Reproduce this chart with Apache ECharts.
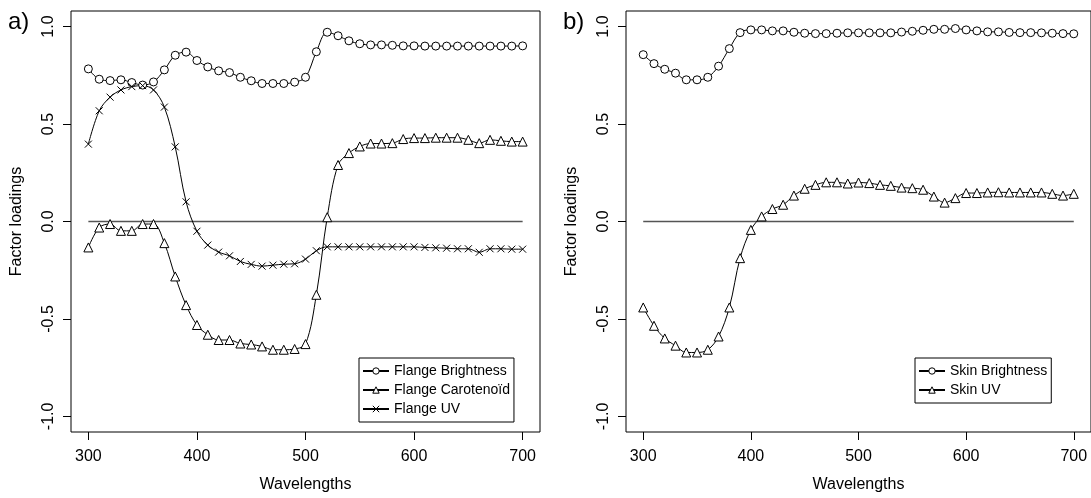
<!DOCTYPE html>
<html>
<head>
<meta charset="utf-8">
<script src="https://cdn.jsdelivr.net/npm/echarts@6/dist/echarts.min.js"></script>
<style>
html,body{margin:0;padding:0;background:#fff;}
#chart{width:1091px;height:498px;}
</style>
</head>
<body>
<div id="chart"></div>
<script>
// ---- data ----
var wavelengths = [300,310,320,330,340,350,360,370,380,390,400,410,420,430,440,450,460,470,480,490,500,510,520,530,540,550,560,570,580,590,600,610,620,630,640,650,660,670,680,690,700];

var flangeBrightness = [0.783,0.730,0.723,0.727,0.713,0.700,0.716,0.778,0.853,0.869,0.826,0.793,0.773,0.764,0.740,0.722,0.708,0.708,0.708,0.715,0.740,0.871,0.971,0.953,0.927,0.912,0.906,0.906,0.904,0.901,0.901,0.900,0.900,0.900,0.900,0.900,0.900,0.900,0.900,0.900,0.901];
var flangeCarotenoid = [-0.133,-0.031,-0.013,-0.048,-0.048,-0.013,-0.013,-0.111,-0.282,-0.429,-0.531,-0.581,-0.608,-0.608,-0.626,-0.631,-0.641,-0.658,-0.658,-0.654,-0.629,-0.376,0.022,0.290,0.351,0.385,0.400,0.400,0.402,0.423,0.428,0.428,0.430,0.430,0.430,0.419,0.402,0.419,0.414,0.410,0.410];
var flangeUV = [0.397,0.568,0.638,0.675,0.692,0.697,0.675,0.587,0.383,0.101,-0.050,-0.121,-0.157,-0.176,-0.205,-0.220,-0.229,-0.224,-0.219,-0.217,-0.193,-0.150,-0.130,-0.130,-0.130,-0.130,-0.130,-0.130,-0.130,-0.130,-0.130,-0.133,-0.135,-0.137,-0.140,-0.140,-0.158,-0.140,-0.140,-0.142,-0.142];

var skinBrightness = [0.856,0.810,0.781,0.761,0.727,0.727,0.740,0.797,0.887,0.969,0.983,0.983,0.978,0.978,0.971,0.966,0.964,0.964,0.966,0.968,0.968,0.968,0.968,0.968,0.972,0.976,0.981,0.986,0.986,0.990,0.983,0.978,0.973,0.973,0.970,0.969,0.969,0.968,0.966,0.964,0.963];
var skinUV = [-0.441,-0.535,-0.600,-0.637,-0.672,-0.672,-0.658,-0.590,-0.441,-0.188,-0.043,0.026,0.064,0.086,0.133,0.168,0.188,0.201,0.201,0.195,0.200,0.197,0.188,0.183,0.174,0.171,0.163,0.128,0.097,0.120,0.146,0.146,0.149,0.150,0.149,0.149,0.149,0.149,0.142,0.133,0.142];

var zeroLineX = [300,700];
var xTicks = [300,400,500,600,700];
var yTicks = [-1,-0.5,0,0.5,1];
var panelLabels = ['a)','b)'];
var legendA = ['Flange Brightness','Flange Carotenoïd','Flange UV'];
var legendB = ['Skin Brightness','Skin UV'];
var xTitle = 'Wavelengths';
var yTitle = 'Factor loadings';

// ---- build ----
function pairs(xs, ys){ return xs.map(function(x,i){ return [x, ys[i]]; }); }

var FONT = 'Liberation Sans, Arial, Helvetica, sans-serif';
var CROSS = 'path://M0,0L10,10M10,0L0,10';

function xAxisFor(idx){
  return {
    gridIndex: idx, type:'value', min:284, max:716,
    name: xTitle, nameLocation:'middle', nameGap:45,
    nameTextStyle:{fontSize:16, color:'#000', fontFamily:FONT},
    axisLine:{show:false, onZero:false},
    axisTick:{show:true, customValues:xTicks, length:8, lineStyle:{color:'#000', width:1}},
    axisLabel:{customValues:xTicks, fontSize:16, color:'#000', fontFamily:FONT, margin:17},
    splitLine:{show:false}
  };
}
function yAxisFor(idx){
  return {
    gridIndex: idx, type:'value', min:-1.08, max:1.08,
    name: yTitle, nameLocation:'middle', nameGap:46,
    nameTextStyle:{fontSize:16, color:'#000', fontFamily:FONT},
    axisLine:{show:false, onZero:false},
    axisTick:{show:true, customValues:yTicks, length:8, lineStyle:{color:'#000', width:1}},
    axisLabel:{customValues:yTicks, rotate:90, fontSize:16, color:'#000', fontFamily:FONT, margin:14,
      formatter:function(v){ return Number(v).toFixed(1); }},
    splitLine:{show:false}
  };
}
function lineSeries(name, idx, ys, symbol, size){
  return {
    name:name, type:'line', xAxisIndex:idx, yAxisIndex:idx,
    data: pairs(wavelengths, ys),
    smooth:0.35, symbol:symbol, symbolSize:size, showSymbol:true,
    lineStyle:{color:'#000', width:1},
    itemStyle:{color:'#fff', borderColor:'#000', borderWidth:1},
    emphasis:{disabled:true}, animation:false, z:3
  };
}
function zeroSeries(idx){
  return {
    type:'line', xAxisIndex:idx, yAxisIndex:idx, data: pairs(zeroLineX,[0,0]),
    symbol:'none', lineStyle:{color:'#555', width:1.6}, silent:true, animation:false, z:2
  };
}

var legendCommon = {
  orient:'vertical', backgroundColor:'#fff', borderColor:'#000', borderWidth:1,
  itemWidth:26, itemHeight:8, itemGap:5, padding:[6,4,6,3],
  textStyle:{fontSize:14, color:'#000', fontFamily:FONT},
  selectedMode:false, itemStyle:{color:'#fff', borderColor:'#000', borderWidth:1}
};

var option = {
  backgroundColor:'#fff',
  animation:false,
  textStyle:{fontFamily:FONT},
  title:[
    {text:panelLabels[0], left:8, top:10, textStyle:{fontSize:24, fontWeight:'normal', color:'#000', fontFamily:FONT}, padding:0},
    {text:panelLabels[1], left:563, top:10, textStyle:{fontSize:24, fontWeight:'normal', color:'#000', fontFamily:FONT}, padding:0}
  ],
  grid:[
    {left:71, top:11, width:469, height:421, show:true, borderColor:'#000', borderWidth:1, backgroundColor:'transparent'},
    {left:626, top:11, width:469, height:421, show:true, borderColor:'#000', borderWidth:1, backgroundColor:'transparent'}
  ],
  xAxis:[xAxisFor(0), xAxisFor(1)],
  yAxis:[yAxisFor(0), yAxisFor(1)],
  legend:[
    Object.assign({}, legendCommon, {data:legendA, left:359, top:358}),
    Object.assign({}, legendCommon, {data:legendB, left:915, top:358})
  ],
  series:[
    zeroSeries(0),
    lineSeries(legendA[0], 0, flangeBrightness, 'circle', 8),
    lineSeries(legendA[1], 0, flangeCarotenoid, 'triangle', 9),
    lineSeries(legendA[2], 0, flangeUV, CROSS, 7),
    zeroSeries(1),
    lineSeries(legendB[0], 1, skinBrightness, 'circle', 8),
    lineSeries(legendB[1], 1, skinUV, 'triangle', 9)
  ]
};

var chart = echarts.init(document.getElementById('chart'), null, {renderer:'canvas'});
chart.setOption(option);
</script>
</body>
</html>
